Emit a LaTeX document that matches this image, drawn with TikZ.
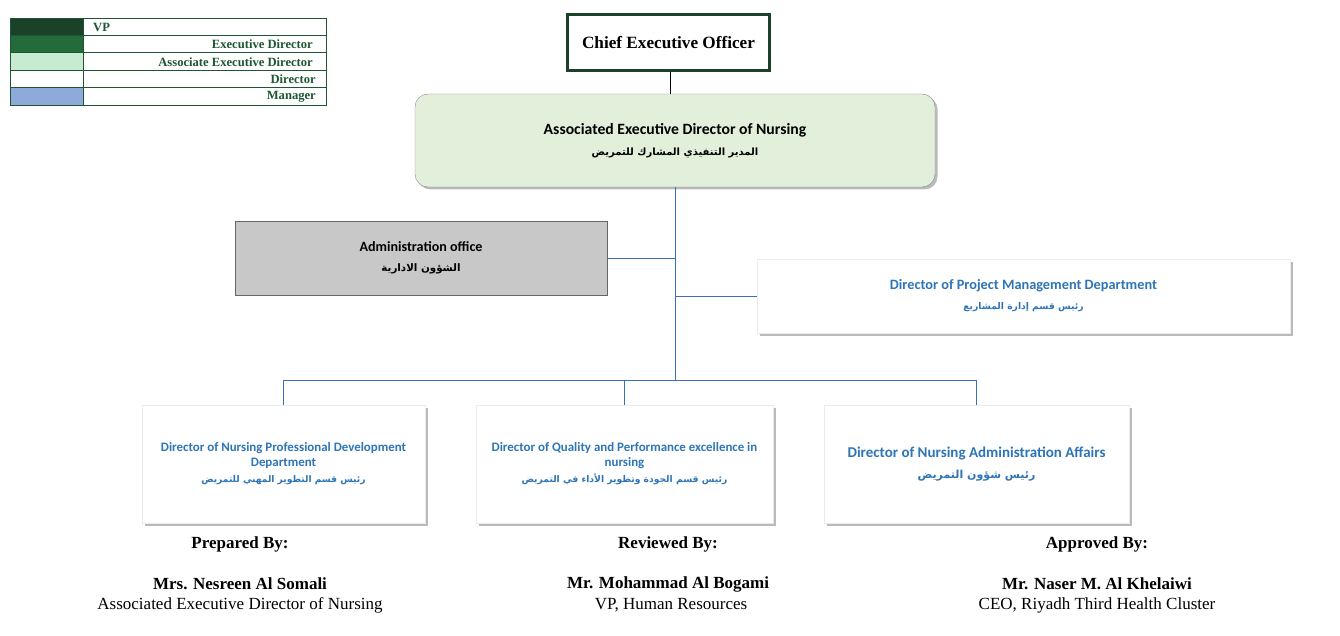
\documentclass[tikz,border=0pt]{standalone}
\usepackage{fontspec}
\setmainfont{Liberation Serif}
\newfontfamily\calfont{Carlito}
\newfontfamily\arabicfont[Script=Arabic]{DejaVu Sans}
\TeXXeTstate=1
\usetikzlibrary{shadows}
\definecolor{vpgreen}{HTML}{1B4228}
\definecolor{edgreen}{HTML}{236B3A}
\definecolor{aedgreen}{HTML}{C6EBD0}
\definecolor{mgrblue}{HTML}{8EAADB}
\definecolor{legtext}{HTML}{1E5631}
\definecolor{aedfill}{HTML}{E2EFDA}
\definecolor{boxblue}{HTML}{2E75B6}
\definecolor{linkblue}{HTML}{3B6FB6}
\definecolor{admfill}{HTML}{C8C8C8}
\tikzset{
  legtxt/.style={font=\fontsize{12.6}{14}\selectfont\bfseries, text=legtext, inner sep=0pt},
  shad/.style={drop shadow={shadow xshift=2.5pt, shadow yshift=-2.5pt, fill=black!45, opacity=0.6}},
  bluebox/.style={draw=black!8, fill=white, shad, align=center, text=boxblue, inner sep=2pt},
  link/.style={draw=linkblue, line width=0.9pt},
  sigtitle/.style={font=\fontsize{17}{19}\selectfont\bfseries, inner sep=0pt},
  signame/.style={font=\fontsize{17}{19}\selectfont, inner sep=0pt},
}
\newcommand{\ar}[1]{{\arabicfont\beginR #1\endR}}
\begin{document}
\begin{tikzpicture}[x=1pt,y=-1pt]
\useasboundingbox (0,0) rectangle (1340,636);
% legend
\fill[vpgreen] (10,18) rectangle (83,35.4);
\fill[edgreen] (10,35.4) rectangle (83,52.8);
\fill[aedgreen] (10,52.8) rectangle (83,70.2);
\fill[mgrblue] (10,87.6) rectangle (83,105);
\draw[legtext, line width=0.9pt] (10,18) rectangle (326,105);
\draw[legtext, line width=0.9pt] (83,18) -- (83,105);
\foreach \yy in {35.4,52.8,70.2,87.6} \draw[legtext, line width=0.9pt] (10,\yy) -- (326,\yy);
\node[legtxt, anchor=west] (lvp) at (93,27) {VP};
\node[legtxt, anchor=east] (led) at (313,44.4) {Executive Director};
\node[legtxt, anchor=east] (laed) at (313,61.8) {Associate Executive Director};
\node[legtxt, anchor=east] (ldir) at (316,79.2) {Director};
\node[legtxt, anchor=east] (lmgr) at (316,96.6) {Manager};
% CEO
\node[draw=vpgreen, line width=3pt, fill=white, minimum width=202, minimum height=56,
  font=\fontsize{17.2}{19}\selectfont\bfseries] (ceo) at (668.5,42.5) {Chief Executive Officer};
% AED
\node[draw=black!45, fill=aedfill, rounded corners=13, shad, minimum width=520, minimum height=93,
  align=center, font=\calfont\fontsize{15.7}{21}\selectfont\bfseries] (aed) at (675,140.5)
  {Associated Executive Director of Nursing\\ {\fontsize{10}{21}\selectfont\ar{المدير التنفيذي المشارك للتمريض}}};
% admin
\node[draw=black!60, fill=admfill, minimum width=372, minimum height=74, align=center,
  font=\calfont\fontsize{14.1}{20}\selectfont\bfseries] (adm) at (421,258)
  {Administration office\\ {\fontsize{10.3}{20}\selectfont\ar{الشؤون الادارية}}};
% project
\node[bluebox, minimum width=533, minimum height=74, font=\calfont\fontsize{14.3}{20}\selectfont\bfseries] (proj) at (1023.5,296)
  {Director of Project Management Department\\ {\fontsize{9.2}{20}\selectfont\ar{رئيس قسم إدارة المشاريع}}};
% bottom
\node[bluebox, minimum width=283, minimum height=118, font=\calfont\fontsize{12.9}{14.5}\selectfont\bfseries] (pd) at (283.5,464)
  {Director of Nursing Professional Development\\ Department\\[2pt] {\fontsize{9.1}{16}\selectfont\ar{رئيس قسم التطوير المهني للتمريض}}};
\node[bluebox, minimum width=297, minimum height=118, font=\calfont\fontsize{12.9}{14.5}\selectfont\bfseries] (qp) at (624.5,464)
  {Director of Quality and Performance excellence in\\ nursing\\[2pt] {\fontsize{9.2}{16}\selectfont\ar{رئيس قسم الجودة وتطوير الأداء في التمريض}}};
\node[bluebox, minimum width=305, minimum height=118, font=\calfont\fontsize{15}{21}\selectfont\bfseries] (na) at (976.5,464)
  {Director of Nursing Administration Affairs\\ {\fontsize{11}{21}\selectfont\ar{رئيس شؤون التمريض}}};
% connectors
\coordinate (trunk) at (675,380);
\draw[black, line width=0.8pt] (ceo.south -| 670,0) -- (aed.north -| 670,0);
\draw[link] (aed.south) -- (trunk);
\draw[link] (adm.east) -- (adm.east -| trunk);
\draw[link] (proj.west) -- (proj.west -| trunk);
\draw[link] (pd.north |- trunk) -- (na.north |- trunk);
\draw[link] (pd.north |- trunk) -- (pd.north);
\draw[link] (qp.north |- trunk) -- (qp.north);
\draw[link] (na.north |- trunk) -- (na.north);
% signatures
\node[sigtitle] (prep) at (240,544.5) {Prepared By:};
\node[sigtitle] (rev) at (668,544.5) {Reviewed By:};
\node[sigtitle] (appr) at (1097,544.5) {Approved By:};
\node[sigtitle] (n1) at (240,584) {Mrs. Nesreen Al Somali};
\node[sigtitle] (n2) at (668,584) {Mr. Mohammad Al Bogami};
\node[sigtitle] (n3) at (1097,584) {Mr. Naser M. Al Khelaiwi};
\node[signame] (t1) at (240,605) {Associated Executive Director of Nursing};
\node[signame] (t2) at (671,605) {VP, Human Resources};
\node[signame] (t3) at (1097,605) {CEO, Riyadh Third Health Cluster};
\end{tikzpicture}
\end{document}
